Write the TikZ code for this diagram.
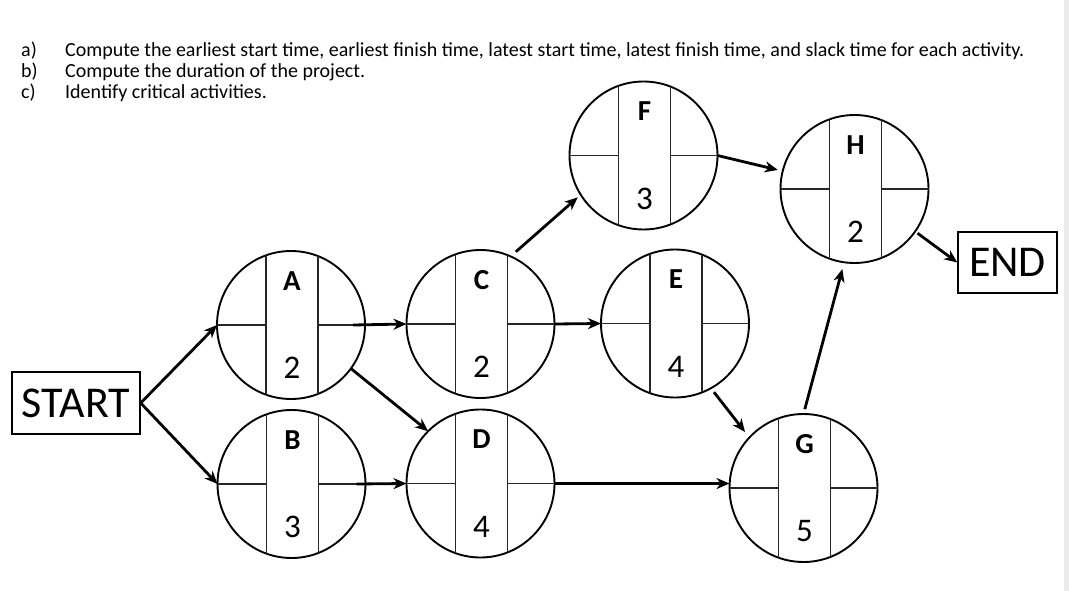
\documentclass[tikz,border=0pt]{standalone}
\usepackage{fontspec}
\setmainfont{Carlito}
\usetikzlibrary{calc,arrows.meta}
\tikzset{
  act/.style={circle,draw,line width=1.9pt,minimum size=148pt,inner sep=0pt,outer sep=0pt},
  div/.style={line width=1.7pt,draw=black!85},
  lett/.style={font=\fontsize{29}{29}\selectfont\bfseries,inner sep=0pt},
  digit/.style={font=\fontsize{33}{33}\selectfont,inner sep=0pt},
  conn/.style={line width=2.8pt,-{Stealth[length=13pt,width=11pt,inset=4pt]}},
  endbox/.style={draw,line width=1.4pt,inner sep=0pt,font=\fontsize{44}{44}\selectfont},
  task/.style={font=\fontsize{20}{20}\selectfont,anchor=base west,inner sep=0pt}
}
\newcommand\actnode[5]{%
  \node[act] (#1) at (#2,#3) {};
  \draw[div] ($(#1.center)+(-25,-69.6)$) -- ($(#1.center)+(-25,69.6)$);
  \draw[div] ($(#1.center)+(27,-68.9)$) -- ($(#1.center)+(27,68.9)$);
  \draw[div] (#1.west) -- ($(#1.center)+(-25,0)$);
  \draw[div] (#1.east) -- ($(#1.center)+(27,0)$);
  \node[lett] (#1l) at ($(#1.center)+(1,-44)$) {#4};
  \node[digit] (#1d) at ($(#1.center)+(1,43)$) {#5};
}
\begin{document}
\begin{tikzpicture}[x=1pt,y=-1pt]
\useasboundingbox (0,0) rectangle (1069,591);
\fill[black!8] (1064,0) rectangle (1069,591);
% task text
\node[task] (la) at (21,57) {a)};
\node[task] (ta) at (65,57) {Compute the earliest start time, earliest finish time, latest start time, latest finish time, and slack time for each activity.};
\node[task] (lb) at (21,78) {b)};
\node[task] (tb) at (65,78) {Compute the duration of the project.};
\node[task] (lc) at (21,99) {c)};
\node[task] (tc) at (65,99) {Identify critical activities.};
% boxes
\node[endbox,minimum width=128pt,minimum height=62pt] (start) at (76,403) {START};
\node[endbox,minimum width=99pt,minimum height=61pt] (end) at (1007.5,262.5) {END};
% activities
\actnode{A}{291}{325}{A}{2}
\actnode{B}{291.5}{484}{B}{3}
\actnode{C}{480.5}{324}{C}{2}
\actnode{D}{480.5}{483.5}{D}{4}
\actnode{E}{675}{323.5}{E}{4}
\actnode{F}{643.5}{155.5}{F}{3}
\actnode{G}{803.5}{488}{G}{5}
\actnode{H}{854.5}{189}{H}{2}
% connectors
\draw[conn] (start.east) -- (A.west);
\draw[conn] (start.east) -- (B.west);
\draw[conn] ($(A.east)+(-12,0)$) -- (C.west);
\draw[conn] ($(B.east)+(-9,0)$) -- (D.west);
\draw[conn] (A.-36) -- (D.135);
\draw[conn] (C.east) -- (E.west);
\draw[conn,shorten <=7pt,shorten >=4pt] (C.66) -- (F.212);
\draw[conn] (D.east) -- (D.east -| G.west);
\draw[conn,shorten <=5pt,shorten >=7pt] (E.-61) -- (G.137);
\draw[conn,shorten <=5pt,shorten >=7pt] (G.90) -- (H.-98);
\draw[conn,shorten >=5pt] (F.east) -- (H.166);
\draw[conn,shorten <=3pt] (H.-35) -- (end.west);
\end{tikzpicture}
\end{document}
